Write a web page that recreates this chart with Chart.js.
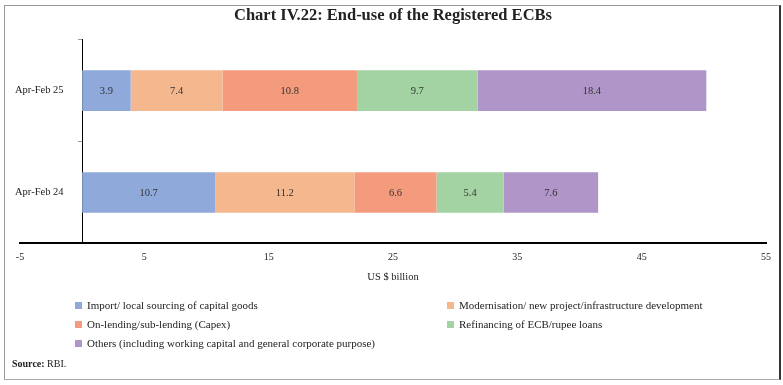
<!DOCTYPE html>
<html>
<head>
<meta charset="utf-8">
<script src="https://cdn.jsdelivr.net/npm/chart.js@4/dist/chart.umd.min.js"></script>
<style>
  html, body { margin: 0; padding: 0; background: #fff; }
  #wrap { position: relative; width: 783px; height: 385px; overflow: hidden; }
  #frame { position: absolute; left: 4px; top: 5px; width: 774px; height: 373px;
           border: 1px solid #999; border-right: 2px solid #333; border-bottom: 1px solid #aaa; pointer-events: none; }
  #cv { position: absolute; left: 0; top: 0; }
  #legend { position: absolute; left: 0; top: 296px; width: 783px;
            font-family: "Liberation Serif", serif; font-size: 11px; color: #222; }
  .item { position: absolute; height: 19px; line-height: 19px; white-space: nowrap; }
  .sw { display: inline-block; width: 7px; height: 7px; margin-right: 5px; vertical-align: 0px; }
  #source { position: absolute; left: 12px; top: 358px; font-family: "Liberation Serif", serif;
            font-size: 10px; color: #222; }
</style>
</head>
<body>
<div id="wrap">
  <canvas id="cv" width="783" height="385"></canvas>
  <div id="frame"></div>
  <div id="legend"></div>
  <div id="source"><b>Source:</b> RBI.</div>
</div>
<script>
const categories = ['Apr-Feb 25', 'Apr-Feb 24'];
const seriesNames = [
  'Import/ local sourcing of capital goods',
  'Modernisation/ new project/infrastructure development',
  'On-lending/sub-lending (Capex)',
  'Refinancing of ECB/rupee loans',
  'Others (including working capital and general corporate purpose)'
];
const importGoods = [3.9, 10.7];
const modernisation = [7.4, 11.2];
const onLending = [10.8, 6.6];
const refinancing = [9.7, 5.4];
const others = [18.4, 7.6];
const xTicks = [-5, 5, 15, 25, 35, 45, 55];
const colors = ['#8FA9DB', '#F5B78E', '#F59B7D', '#A3D3A2', '#B096C8'];

const seriesValues = [importGoods, modernisation, onLending, refinancing, others];
const SERIF = '"Liberation Serif", serif';

const valueLabels = {
  id: 'valueLabels',
  afterDatasetsDraw(chart) {
    const ctx = chart.ctx;
    ctx.save();
    ctx.font = '10.5px ' + SERIF;
    ctx.fillStyle = '#333';
    ctx.textAlign = 'center';
    ctx.textBaseline = 'middle';
    chart.data.datasets.forEach((ds, i) => {
      const meta = chart.getDatasetMeta(i);
      meta.data.forEach((el, j) => {
        const p = el.getCenterPoint();
        ctx.fillText(ds.data[j].toFixed(1), p.x, p.y + 1);
      });
    });
    ctx.restore();
  }
};

const htmlLegend = {
  id: 'htmlLegend',
  afterUpdate(chart) {
    const box = document.getElementById('legend');
    box.innerHTML = '';
    const items = chart.options.plugins.legend.labels.generateLabels(chart);
    items.forEach((it, k) => {
      const d = document.createElement('div');
      d.className = 'item';
      d.style.left = (k % 2 === 0 ? 75 : 447) + 'px';
      d.style.top = (Math.floor(k / 2) * 19) + 'px';
      const sw = document.createElement('span');
      sw.className = 'sw';
      sw.style.background = it.fillStyle;
      d.appendChild(sw);
      d.appendChild(document.createTextNode(it.text));
      box.appendChild(d);
    });
  }
};

new Chart(document.getElementById('cv'), {
  type: 'bar',
  data: {
    labels: categories,
    datasets: seriesNames.map((n, i) => ({
      label: n,
      data: seriesValues[i],
      backgroundColor: colors[i],
      borderWidth: 0,
      categoryPercentage: 1,
      barPercentage: 0.4
    }))
  },
  options: {
    indexAxis: 'y',
    responsive: false,
    animation: false,
    devicePixelRatio: 1,
    layout: { padding: { left: 20, right: 17, top: 0, bottom: 101 } },
    plugins: {
      legend: { display: false },
      tooltip: { enabled: false },
      title: {
        display: true,
        text: 'Chart IV.22: End-use of the Registered ECBs',
        font: { family: SERIF, size: 16.5, weight: 'bold' },
        color: '#222',
        padding: { top: 6, bottom: 14 }
      }
    },
    scales: {
      x: {
        type: 'linear',
        stacked: true,
        min: -5,
        max: 55,
        afterBuildTicks(scale) { scale.ticks = xTicks.map(v => ({ value: v })); },
        grid: { display: false, drawTicks: false },
        border: { display: true, color: '#000', width: 2 },
        ticks: { font: { family: SERIF, size: 10 }, color: '#222', padding: 8, maxRotation: 0 },
        title: {
          display: true,
          text: 'US $ billion',
          font: { family: SERIF, size: 10.5 },
          color: '#222',
          padding: { top: 0, bottom: 0 }
        }
      },
      y: {
        stacked: true,
        position: { x: 0 },
        grid: { display: true, drawOnChartArea: false, drawTicks: true, tickLength: 4, offset: true, color: '#999' },
        border: { display: true, color: '#000', width: 1 },
        ticks: { display: false }
      },
      yLabels: {
        type: 'category',
        axis: 'y',
        offset: true,
        position: { x: -1.5 },
        grid: { display: false, drawTicks: false },
        border: { display: false },
        ticks: { font: { family: SERIF, size: 10.5 }, color: '#222', padding: 0 }
      }
    }
  },
  plugins: [valueLabels, htmlLegend]
});
</script>
</body>
</html>
